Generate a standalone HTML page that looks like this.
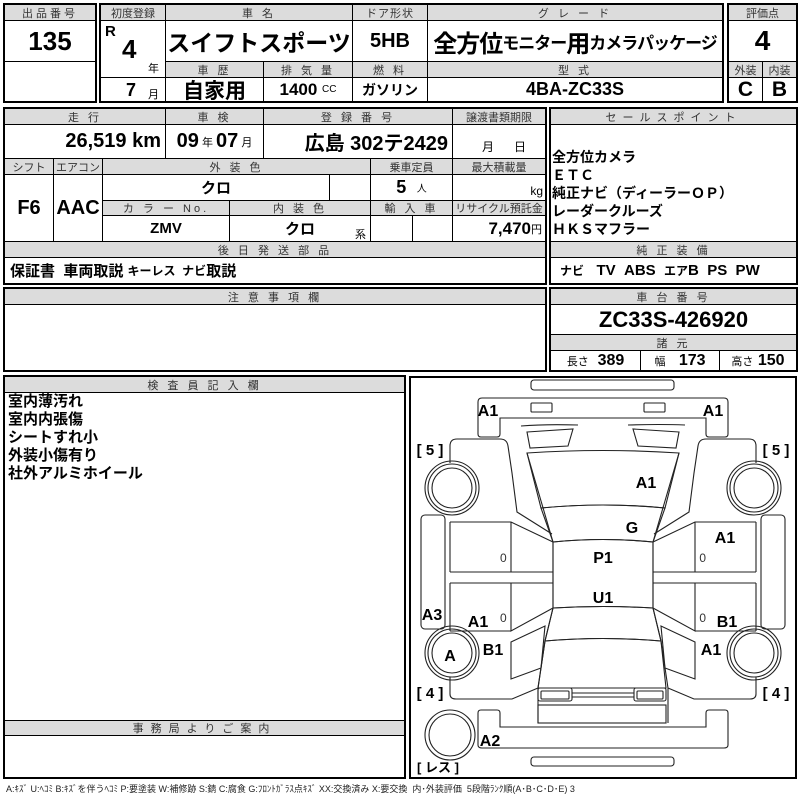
<!DOCTYPE html>
<html><head><meta charset="utf-8">
<style>
body{margin:0;width:800px;height:800px;background:#fff;position:relative;overflow:hidden;font-family:"Liberation Sans","Noto Sans CJK JP",sans-serif;color:#000}
.c{position:absolute;box-sizing:border-box;border:1px solid #000;display:flex;align-items:center;justify-content:center;white-space:nowrap;overflow:hidden}
.h{background:#dcdcdc;font-size:11px;color:#333;letter-spacing:3px}
.b{font-weight:bold}
.t{position:absolute;white-space:nowrap}
.o{position:absolute;box-sizing:border-box;border:2px solid #000;pointer-events:none}
</style></head><body>
<!-- Box 1 -->
<div class="c h" style="left:4px;top:4px;width:92px;height:17px">出品番号</div>
<div class="c b" style="left:4px;top:20px;width:92px;height:42px;font-size:26px">135</div>
<div class="c" style="left:4px;top:61px;width:92px;height:41px"></div>
<!-- Box 2 -->
<div class="c h" style="left:100px;top:4px;width:66px;height:17px;letter-spacing:0">初度登録</div>
<div class="c h" style="left:165px;top:4px;width:188px;height:17px">車 名</div>
<div class="c h" style="left:352px;top:4px;width:76px;height:17px;letter-spacing:1px">ドア形状</div>
<div class="c h" style="left:427px;top:4px;width:296px;height:17px">グ レ ー ド</div>
<div class="c" style="left:100px;top:20px;width:66px;height:82px"></div>
<div class="t b" style="left:105px;top:23px;font-size:15px">R</div>
<div class="t b" style="left:122px;top:34px;font-size:26px">4</div>
<div class="t" style="left:148px;top:60px;font-size:11px">年</div>
<div class="t b" style="left:126px;top:80px;font-size:18px">7</div>
<div class="t" style="left:148px;top:86px;font-size:11px">月</div>
<div class="c" style="left:100px;top:77px;width:66px;height:25px;border-bottom:none;border-left:none;border-right:none"></div>
<div class="c b" style="left:165px;top:20px;width:188px;height:42px;font-size:23px">スイフトスポーツ</div>
<div class="c b" style="left:352px;top:20px;width:76px;height:42px;font-size:20px">5HB</div>
<div class="c b" style="left:427px;top:20px;width:296px;height:42px;font-size:24px;letter-spacing:-1px">全方位<span style="font-size:17px">モニター</span>用<span style="font-size:17px">カメラパッケージ</span></div>
<div class="c h" style="left:165px;top:61px;width:99px;height:17px">車 歴</div>
<div class="c h" style="left:263px;top:61px;width:90px;height:17px">排 気 量</div>
<div class="c h" style="left:352px;top:61px;width:76px;height:17px">燃 料</div>
<div class="c h" style="left:427px;top:61px;width:296px;height:17px">型 式</div>
<div class="c b" style="left:165px;top:77px;width:99px;height:25px;font-size:21px">自家用</div>
<div class="c b" style="left:263px;top:77px;width:90px;height:25px;font-size:17px">1400&nbsp;<span style="font-size:10px;font-weight:normal">CC</span></div>
<div class="c b" style="left:352px;top:77px;width:76px;height:25px;font-size:14px">ガソリン</div>
<div class="c b" style="left:427px;top:77px;width:296px;height:25px;font-size:18px">4BA-ZC33S</div>
<div class="o" style="left:3px;top:3px;width:94px;height:100px"></div>
<div class="o" style="left:99px;top:3px;width:625px;height:100px"></div>
<!-- Box 3 -->
<div class="c h" style="left:728px;top:4px;width:69px;height:17px;letter-spacing:0">評価点</div>
<div class="c b" style="left:728px;top:20px;width:69px;height:42px;font-size:28px">4</div>
<div class="c h" style="left:728px;top:61px;width:35px;height:17px;letter-spacing:0">外装</div>
<div class="c h" style="left:762px;top:61px;width:35px;height:17px;letter-spacing:0">内装</div>
<div class="c b" style="left:728px;top:77px;width:35px;height:25px;font-size:21px">C</div>
<div class="c b" style="left:762px;top:77px;width:35px;height:25px;font-size:21px">B</div>
<div class="o" style="left:727px;top:3px;width:71px;height:100px"></div>
<!-- Row 2 -->
<div class="c h" style="left:4px;top:108px;width:162px;height:17px">走 行</div>
<div class="c h" style="left:165px;top:108px;width:99px;height:17px">車 検</div>
<div class="c h" style="left:263px;top:108px;width:190px;height:17px">登 録 番 号</div>
<div class="c h" style="left:452px;top:108px;width:94px;height:17px;letter-spacing:0">譲渡書類期限</div>
<div class="c b" style="left:4px;top:124px;width:162px;height:35px;font-size:20px;justify-content:flex-end;padding-right:4px">26,519 km</div>
<div class="c b" style="left:165px;top:124px;width:99px;height:35px;font-size:20px">09<span style="font-size:11px;font-weight:normal">&nbsp;年&nbsp;</span>07<span style="font-size:11px;font-weight:normal">&nbsp;月</span></div>
<div class="c b" style="left:263px;top:124px;width:190px;height:35px;font-size:20px;justify-content:flex-end;padding-right:4px">広島 302テ2429</div>
<div class="c" style="left:452px;top:124px;width:94px;height:35px;font-size:12px;align-items:flex-end;padding-bottom:3px">&nbsp;&nbsp;&nbsp;月&nbsp;&nbsp;&nbsp;&nbsp;&nbsp;&nbsp;日</div>
<div class="c h" style="left:4px;top:158px;width:50px;height:17px;letter-spacing:0">シフト</div>
<div class="c h" style="left:53px;top:158px;width:50px;height:17px;letter-spacing:0">エアコン</div>
<div class="c h" style="left:102px;top:158px;width:269px;height:17px">外 装 色</div>
<div class="c h" style="left:370px;top:158px;width:83px;height:17px;letter-spacing:0">乗車定員</div>
<div class="c h" style="left:452px;top:158px;width:94px;height:17px;letter-spacing:0">最大積載量</div>
<div class="c b" style="left:4px;top:174px;width:50px;height:68px;font-size:20px">F6</div>
<div class="c b" style="left:53px;top:174px;width:50px;height:68px;font-size:20px">AAC</div>
<div class="c b" style="left:102px;top:174px;width:228px;height:27px;font-size:15px">クロ</div>
<div class="c" style="left:329px;top:174px;width:42px;height:27px"></div>
<div class="c b" style="left:370px;top:174px;width:83px;height:27px;font-size:18px">5&nbsp;<span style="font-size:10px;font-weight:normal">&nbsp;&nbsp;人</span></div>
<div class="c" style="left:452px;top:174px;width:94px;height:27px;font-size:12px;justify-content:flex-end;align-items:flex-end;padding:0 2px 2px 0">kg</div>
<div class="c h" style="left:102px;top:200px;width:128px;height:16px">カ ラ ー No.</div>
<div class="c h" style="left:229px;top:200px;width:142px;height:16px">内 装 色</div>
<div class="c h" style="left:370px;top:200px;width:83px;height:16px">輸 入 車</div>
<div class="c h" style="left:452px;top:200px;width:94px;height:16px;letter-spacing:0">リサイクル預託金</div>
<div class="c b" style="left:102px;top:215px;width:128px;height:27px;font-size:15px">ZMV</div>
<div class="c b" style="left:229px;top:215px;width:142px;height:27px;font-size:15px">クロ</div>
<div class="t" style="left:355px;top:226px;font-size:11px">系</div>
<div class="c" style="left:370px;top:215px;width:43px;height:27px"></div>
<div class="c" style="left:412px;top:215px;width:41px;height:27px"></div>
<div class="c b" style="left:452px;top:215px;width:94px;height:27px;font-size:17px;justify-content:flex-end;padding-right:3px">7,470<span style="font-size:11px;font-weight:normal">円</span></div>
<div class="c h" style="left:4px;top:241px;width:542px;height:17px">後 日 発 送 部 品</div>
<div class="c b" style="left:4px;top:257px;width:542px;height:27px;font-size:15px;justify-content:flex-start;padding-left:5px">保証書&nbsp;&nbsp;車両取説&nbsp;<span style="font-size:12px">キーレス&nbsp;&nbsp;ナビ</span>取説</div>
<div class="o" style="left:3px;top:107px;width:544px;height:178px"></div>
<!-- sales -->
<div class="c h" style="left:550px;top:108px;width:247px;height:17px;letter-spacing:6px">セールスポイント</div>
<div class="c" style="left:550px;top:124px;width:247px;height:118px"></div>
<div class="t b" style="left:552px;top:148px;font-size:14px;line-height:18px">全方位カメラ<br>ＥＴＣ<br>純正ナビ（ディーラーＯＰ）<br>レーダークルーズ<br>ＨＫＳマフラー</div>
<div class="c h" style="left:550px;top:241px;width:247px;height:17px">純 正 装 備</div>
<div class="c b" style="left:550px;top:257px;width:247px;height:27px;font-size:15px;justify-content:flex-start;padding-left:9px"><span style="font-size:12px">ナビ</span>&nbsp;&nbsp;&nbsp;TV&nbsp;&nbsp;ABS&nbsp;&nbsp;<span style="font-size:12px">エア</span>B&nbsp;&nbsp;PS&nbsp;&nbsp;PW</div>
<div class="o" style="left:549px;top:107px;width:249px;height:178px"></div>
<!-- 注意 -->
<div class="c h" style="left:4px;top:288px;width:542px;height:17px">注 意 事 項 欄</div>
<div class="c" style="left:4px;top:304px;width:542px;height:67px"></div>
<div class="o" style="left:3px;top:287px;width:544px;height:85px"></div>
<div class="c h" style="left:550px;top:288px;width:247px;height:17px">車 台 番 号</div>
<div class="c b" style="left:550px;top:304px;width:247px;height:31px;font-size:22px">ZC33S-426920</div>
<div class="c h" style="left:550px;top:334px;width:247px;height:17px">諸 元</div>
<div class="c b" style="left:550px;top:350px;width:91px;height:21px;font-size:16px"><span style="font-size:11px;font-weight:normal">長さ</span>&nbsp;&nbsp;389</div>
<div class="c b" style="left:640px;top:350px;width:80px;height:21px;font-size:16px"><span style="font-size:11px;font-weight:normal">幅</span>&nbsp;&nbsp;&nbsp;173</div>
<div class="c b" style="left:719px;top:350px;width:78px;height:21px;font-size:16px"><span style="font-size:11px;font-weight:normal">高さ</span>&nbsp;150</div>
<div class="o" style="left:549px;top:287px;width:249px;height:85px"></div>
<!-- 検査員 -->
<div class="c h" style="left:4px;top:376px;width:401px;height:17px">検 査 員 記 入 欄</div>
<div class="c" style="left:4px;top:392px;width:401px;height:329px"></div>
<div class="t b" style="left:8px;top:393px;font-size:15px;line-height:18px">室内薄汚れ<br>室内内張傷<br>シートすれ小<br>外装小傷有り<br>社外アルミホイール</div>
<div class="c h" style="left:4px;top:720px;width:401px;height:16px;letter-spacing:7px">事務局よりご案内</div>
<div class="c" style="left:4px;top:735px;width:401px;height:43px"></div>
<div class="o" style="left:3px;top:375px;width:403px;height:404px"></div>
<div class="t" style="left:6px;top:782px;font-size:9px;color:#222">A:ｷｽﾞ U:ﾍｺﾐ B:ｷｽﾞを伴うﾍｺﾐ P:要塗装 W:補修跡 S:錆 C:腐食 G:ﾌﾛﾝﾄｶﾞﾗｽ点ｷｽﾞ XX:交換済み X:要交換&nbsp;&nbsp;内･外装評価&nbsp;&nbsp;5段階ﾗﾝｸ順(A･B･C･D･E) 3</div>
<!-- diagram -->
<div class="c" style="left:409px;top:376px;width:388px;height:403px;border-width:2px"></div>
<svg style="position:absolute;left:0;top:0" width="800" height="800" viewBox="0 0 800 800">
<g fill="none" stroke="#222" stroke-width="1.1">
<rect x="531" y="380" width="143" height="10" rx="3"/>
<path d="M478,434 L478,402 Q478,398 482,398 L724,398 Q728,398 728,402 L728,434 Q728,437 725,437 L709,437 Q706,437 706,434 L706,418 L500,418 L500,434 Q500,437 497,437 L481,437 Q478,437 478,434 Z"/>
<rect x="531" y="403" width="21" height="9" rx="1"/>
<rect x="644" y="403" width="21" height="9" rx="1"/>
<path d="M521,426 Q545,424 578,425"/><path d="M685,425 Q660,424 628,425"/>
<path d="M527,432 L573,429 L568,446 L530,448 Z"/><path d="M679,432 L633,429 L638,446 L676,448 Z"/>
<path d="M527,453 Q603,448 679,453 L665,508 Q603,502 541,508 Z"/>
<path d="M541,508 Q603,502 665,508 L653,542 Q603,537 553,542 Z"/>
<path d="M553,542 Q603,537 653,542 L653,608 Q603,605 553,608 Z"/>
<path d="M553,608 Q603,605 653,608 L661,641 Q603,636 545,641 Z"/>
<path d="M545,641 Q603,636 661,641 L666,688 L538,688 Z"/>
<rect x="538" y="688" width="34" height="13" rx="2"/><rect x="541" y="691" width="28" height="8" rx="1"/>
<rect x="634" y="688" width="32" height="13" rx="2"/><rect x="637" y="691" width="26" height="8" rx="1"/>
<path d="M572,693 L634,693 M572,697 L634,697"/>
<rect x="538" y="705" width="128" height="18"/>
<path d="M478,713 L478,745 Q478,748 482,748 L724,748 Q728,748 728,745 L728,713 Q728,710 725,710 L709,710 Q706,710 706,713 L706,727 L500,727 L500,713 Q500,710 497,710 L481,710 Q478,710 478,713 Z"/>
<rect x="531" y="757" width="143" height="9" rx="3"/>
<circle cx="450" cy="735" r="25"/><circle cx="450" cy="735" r="21"/>
<g id="side">
<path d="M450,463 L450,446 Q450,439 457,439 L500,439 Q507,439 508,446 L512,473 L517,512 L552,534"/>
<path d="M527,453 L553,542"/>
<circle cx="452" cy="488" r="27"/><circle cx="452" cy="488" r="24"/><circle cx="452" cy="488" r="20"/>
<rect x="421" y="515" width="24" height="114" rx="4"/>
<path d="M450,522 L511,522 L553,542 M511,522 L511,572 M450,572 L553,572 M450,583 L553,583 M511,583 L511,631 L553,608 M450,631 L511,631 M450,522 L450,572 M450,583 L450,631"/>
<path d="M553,542 L553,608 M553,608 L545,641 L538,688 L538,723"/>
<circle cx="452" cy="653" r="27"/><circle cx="452" cy="653" r="24"/><circle cx="452" cy="653" r="20"/>
<path d="M511,642 L545,626 L541,668 L511,679 Z"/>
<path d="M450,677 L450,694 Q450,699 456,699 L512,699 L538,688"/>
<text x="500" y="562" font-size="12" fill="#333" stroke="none" font-family="Liberation Sans">0</text>
<text x="500" y="622" font-size="12" fill="#333" stroke="none" font-family="Liberation Sans">0</text>
</g>
<use href="#side" transform="translate(1206,0) scale(-1,1)"/>
</g>
<g font-family="Liberation Sans" font-weight="bold" font-size="16" text-anchor="middle" fill="#000">
<text x="488" y="416">A1</text><text x="713" y="416">A1</text>
<text x="646" y="488">A1</text><text x="632" y="533">G</text>
<text x="603" y="563">P1</text><text x="603" y="603">U1</text>
<text x="725" y="543">A1</text><text x="727" y="627">B1</text><text x="711" y="655">A1</text>
<text x="432" y="620">A3</text><text x="478" y="627">A1</text><text x="493" y="655">B1</text>
<text x="450" y="661">A</text><text x="490" y="746">A2</text>
<text x="430" y="455" font-size="15">[ 5 ]</text><text x="776" y="455" font-size="15">[ 5 ]</text>
<text x="430" y="698" font-size="15">[ 4 ]</text><text x="776" y="698" font-size="15">[ 4 ]</text>
<text x="438" y="772" font-size="13" font-family="Liberation Sans, Noto Sans CJK JP, sans-serif">[ レス ]</text>
</g>
</svg>
</body></html>
